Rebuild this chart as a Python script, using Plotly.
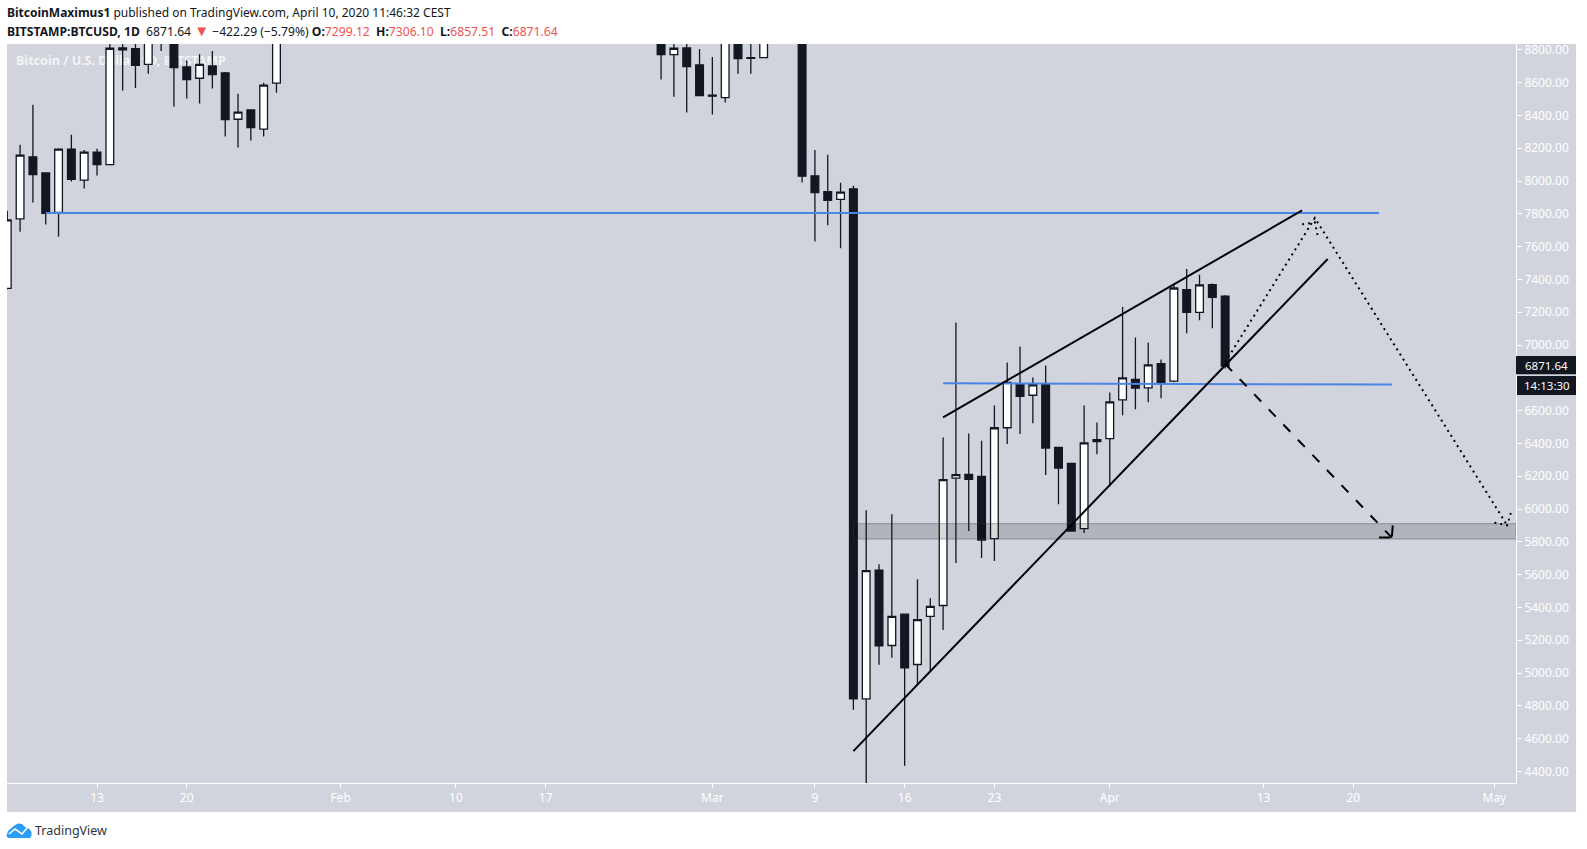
import plotly.graph_objects as go

# ---------- candle data (off-panel extremes are estimates) ----------
dates = ["2020-01-06","2020-01-07","2020-01-08","2020-01-09","2020-01-10","2020-01-11","2020-01-12","2020-01-13",
         "2020-01-14","2020-01-15","2020-01-16","2020-01-17","2020-01-18","2020-01-19","2020-01-20","2020-01-21",
         "2020-01-22","2020-01-23","2020-01-24","2020-01-25","2020-01-26","2020-01-27",
         "2020-02-26","2020-02-27","2020-02-28","2020-02-29","2020-03-01","2020-03-02","2020-03-03","2020-03-04","2020-03-05",
         "2020-03-08","2020-03-09","2020-03-10","2020-03-11","2020-03-12","2020-03-13","2020-03-14","2020-03-15","2020-03-16",
         "2020-03-17","2020-03-18","2020-03-19","2020-03-20","2020-03-21","2020-03-22","2020-03-23","2020-03-24","2020-03-25",
         "2020-03-26","2020-03-27","2020-03-28","2020-03-29","2020-03-30","2020-03-31","2020-04-01","2020-04-02","2020-04-03",
         "2020-04-04","2020-04-05","2020-04-06","2020-04-07","2020-04-08","2020-04-09","2020-04-10"]
opens = [7346,7769,8148,8050,7809,8195,8006,8177,
         8101,8812,8807,8712,8910,8900,8696,8627,
         8702,8660,8377,8434,8317,8597,
         8950,8771,8812,8708,8524,8509,8950,8752,8753,
         8950,8032,7935,7888,7953,4843,5627,5168,5359,
         5052,5345,5412,6189,6211,6199,5820,6496,6764,
         6694,6764,6376,6278,5881,6411,6429,6666,6790,
         6739,6887,6780,7338,7200,7368,7299.12]
highs = [7819,8221,8465,8050,8200,8282,8189,8197,
         8900,8950,8950,9000,9000,9200,8737,8773,
         8793,8666,8532,8434,8599,9000,
         9000,8880,8860,8805,8757,9000,9000,8860,9000,
         9000,8190,8160,7990,7971,5992,5663,5968,5359,
         5572,5456,6437,7137,6461,6417,6632,6893,6991,
         6802,6875,6376,6278,6632,6528,6711,7233,7046,
         7015,6912,7376,7464,7429,7375,7306.10]
lows = [7340,7691,7870,7736,7661,7998,7955,8034,
        8101,8552,8568,8655,8793,8454,8503,8473,
        8564,8272,8205,8247,8272,8538,
        8619,8515,8418,8521,8406,8479,8655,8655,8753,
        7991,7632,7730,7590,4776,3850,5050,5093,4435,
        4932,5007,5263,5671,5866,5702,5683,6396,6457,
        6524,6207,6030,5866,5854,6335,6138,6572,6609,
        6652,6676,6773,7072,7151,7102,6857.51]
closes = [7764,8158,8040,7803,8195,8010,8177,8101,
          8810,8800,8706,8905,8900,8692,8619,8712,
          8649,8375,8420,8326,8585,8950,
          8771,8810,8698,8521,8518,8950,8747,8748,8950,
          8030,7930,7882,7933,4843,5625,5166,5345,5032,
          5326,5406,6179,6210,6181,5811,6496,6773,6688,
          6758,6372,6250,5866,6404,6423,6654,6800,6737,
          6879,6773,7348,7200,7367,7291,6871.64]

# ---------- hand-drawn overlays (time, price) ----------
blue_top_x, blue_top_y = ["2020-01-09","2020-04-22"], [7805,7805]
blue_mid_x, blue_mid_y = ["2020-03-19","2020-04-23"], [6767,6759]
wedge_upper_x, wedge_upper_y = ["2020-03-19","2020-04-16"], [6559,7821]
wedge_lower_x, wedge_lower_y = ["2020-03-12","2020-04-18"], [4524,7525]
dotted_x = ["2020-04-10","2020-04-17","2020-05-02"]
dotted_y = [6895,7775,5901]
dotted_head1_x, dotted_head1_y = ["2020-04-16","2020-04-17","2020-04-17 05:00"], [7736,7748,7671]
dotted_head2_x, dotted_head2_y = ["2020-05-01","2020-05-02","2020-05-02 07:00"], [5917,5901,5978]
dashed_x, dashed_y = ["2020-04-10","2020-04-23"], [6885,5826]
dashed_head_x, dashed_head_y = ["2020-04-22","2020-04-23","2020-04-23 02:00"], [5826,5826,5911]
zone_x = ["2020-03-12","2020-05-02 16:30","2020-05-02 16:30","2020-03-12","2020-03-12"]
zone_y = [5911,5911,5817,5817,5911]

# the 6800 label is hidden behind the price tags in the reference
price_ticks = [4400,4600,4800,5000,5200,5400,5600,5800,6000,6200,6400,6600,7000,7200,7400,7600,7800,8000,8200,8400,8600,8800]
time_tick_vals = ["2020-01-13","2020-01-20","2020-02-01","2020-02-10","2020-02-17","2020-03-01","2020-03-09",
                  "2020-03-16","2020-03-23","2020-04-01","2020-04-13","2020-04-20","2020-05-01"]
time_tick_text = ["13","20","Feb","10","17","Mar","9","16","23","Apr","13","20","May"]

W, H = 1587, 849
L, R, T, B = 7, 1516, 44, 783
def px(x): return (x-L)/(R-L)
def py(y): return (B-y)/(B-T)

DARK = "#131722"
BG = "#d1d4dc"
BLUE = "#4a84e6"
RED = "#ef5350"
FONT = "Noto Sans"

fig = go.Figure()
fig.add_trace(go.Candlestick(x=dates, open=opens, high=highs, low=lows, close=closes,
    increasing=dict(fillcolor="white", line=dict(color=DARK, width=1.3)),
    decreasing=dict(fillcolor=DARK, line=dict(color=DARK, width=1.3)),
    whiskerwidth=0, hoverinfo="skip", showlegend=False))

def line(x, y, color="#000000", width=2, dash="solid"):
    fig.add_trace(go.Scatter(x=x, y=y, mode="lines", hoverinfo="skip", showlegend=False,
                             line=dict(color=color, width=width, dash=dash)))

fig.add_trace(go.Scatter(x=zone_x, y=zone_y, mode="lines", fill="toself", fillcolor="rgba(0,0,0,0.15)",
                         line=dict(color="rgba(60,60,70,0.4)", width=1), hoverinfo="skip", showlegend=False))
line(blue_top_x, blue_top_y, BLUE)
line(blue_mid_x, blue_mid_y, BLUE)
line(wedge_upper_x, wedge_upper_y)
line(wedge_lower_x, wedge_lower_y)
dot = "2px,4px"
line(dotted_x, dotted_y, width=2, dash=dot)
line(dotted_head1_x, dotted_head1_y, width=2, dash=dot)
line(dotted_head2_x, dotted_head2_y, width=2, dash=dot)
line(dashed_x, dashed_y, width=2, dash="10px,11px")
line(dashed_head_x, dashed_head_y, width=2, dash="11px,3px")

shapes = [
    # axis gutters share the panel colour
    dict(type="rect", xref="paper", yref="paper", x0=px(R), x1=px(1576), y0=py(812), y1=1, layer="below",
         fillcolor=BG, line=dict(width=0)),
    dict(type="rect", xref="paper", yref="paper", x0=0, x1=1, y0=py(812), y1=0, layer="below",
         fillcolor=BG, line=dict(width=0)),
    # watermark sits under the candles
    dict(type="rect", xref="paper", yref="paper", x0=px(13), x1=px(300), y0=py(71), y1=py(51), layer="below",
         fillcolor="rgba(0,0,0,0)", line=dict(width=0),
         label=dict(text="<b>Bitcoin / U.S. Dollar, 1D, BITSTAMP</b>", textposition="middle left", padding=0,
                    font=dict(family=FONT, size=12.6, color="rgba(255,255,255,0.75)"))),
    # price and countdown tags
    dict(type="rect", xref="paper", yref="paper", x0=px(R), x1=px(1576), y0=py(374.3), y1=py(356),
         fillcolor=DARK, line=dict(width=0)),
    dict(type="rect", xref="paper", yref="paper", x0=px(1517), x1=px(1576), y0=py(395), y1=py(376),
         fillcolor=DARK, line=dict(width=0)),
    # TradingView logo cloud
    dict(type="path", xref="paper", yref="paper", fillcolor="#2a9df4", line=dict(width=0),
         path="M %f %f " % (px(6.5), py(836)) +
              " ".join("L %f %f" % (px(a), py(b)) for a, b in
                       [(8,831),(12,827.5),(15,825),(18,823.5),(22,824),(25,827),(29,828.5),(31.5,832),(31.5,836),(30,838),(8,838)]) + " Z"),
    dict(type="path", xref="paper", yref="paper", line=dict(color="white", width=1.6),
         path="M %f %f L %f %f L %f %f L %f %f" % (px(9), py(834), px(15), py(829), px(22), py(834), px(28), py(827))),
]

def note(x, y, text, size=13, color=DARK, xanchor="left"):
    return dict(xref="paper", yref="paper", x=px(x), y=py(y), text=text, showarrow=False, xanchor=xanchor, yanchor="middle",
                font=dict(family=FONT, size=size, color=color), align="left", borderpad=0)

def red(s): return '<span style="color:%s">%s</span>' % (RED, s)

annotations = [
    note(6, 12.5, "<b>BitcoinMaximus1</b> published on TradingView.com, April 10, 2020 11:46:32 CEST", size=12),
    note(6, 29.5, "<b>BITSTAMP:BTCUSD, 1D</b>  6871.64 " + '<span style="color:%s;font-size:15px">▼</span>' % RED +
         " −422.29 (−5.79%) <b>O:</b>" + red("7299.12") +
         "  <b>H:</b>" + red("7306.10") + "  <b>L:</b>" + red("6857.51") + "  <b>C:</b>" + red("6871.64"), size=12.15),
    note(1546, 365, "6871.64", size=11.5, color="white", xanchor="center"),
    note(1546.5, 386, "14:13:30", size=11.5, color="white", xanchor="center"),
    note(34, 830.5, "TradingView", size=12.5, color="#2f3440"),
]

fig.update_layout(
    width=W, height=H, autosize=False,
    margin=dict(l=L, r=W-R, t=T, b=H-B, pad=0),
    paper_bgcolor="white", plot_bgcolor=BG,
    showlegend=False, hovermode=False, boxgap=0.14,
    shapes=shapes, annotations=annotations,
    xaxis=dict(type="date", range=["2020-01-05 23:30","2020-05-02 16:30"], rangeslider=dict(visible=False),
               showgrid=False, zeroline=False, showline=True, linecolor="white", linewidth=1,
               tickmode="array", tickvals=time_tick_vals, ticktext=time_tick_text,
               ticks="outside", ticklen=4, tickcolor="white", tickwidth=1,
               tickfont=dict(family=FONT, size=12, color="white")),
    yaxis=dict(side="right", range=[4329.5,8836], showgrid=False, zeroline=False,
               showline=True, linecolor="white", linewidth=1,
               tickmode="array", tickvals=price_ticks, tickformat=".2f",
               ticks="outside", ticklen=5, tickcolor="white", tickwidth=1,
               tickfont=dict(family=FONT, size=12, color="white")),
)

fig.write_html("out.html", config=dict(displayModeBar=False),
               post_script="document.body.style.margin='0';document.body.style.overflow='hidden';")
